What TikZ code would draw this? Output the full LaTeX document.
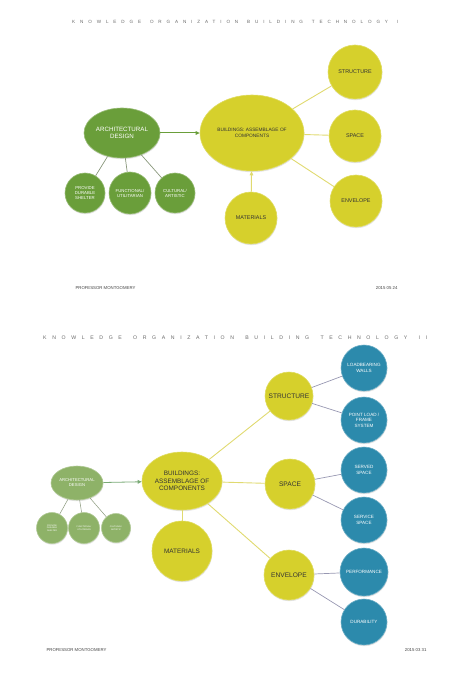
\documentclass[tikz,border=0pt]{standalone}
\usepackage{fontspec}
\setmainfont{Liberation Sans}
\usetikzlibrary{arrows.meta,shadows,shapes.geometric}

\definecolor{mapgreen}{RGB}{106,158,58}
\definecolor{palegreen}{RGB}{142,178,104}
\definecolor{mapyellow}{RGB}{214,208,44}
\definecolor{mapblue}{RGB}{44,138,172}
\definecolor{titlegray}{RGB}{105,105,105}
\definecolor{linkyellow}{RGB}{224,218,112}
\definecolor{linkgray}{RGB}{152,152,178}
\definecolor{linkgreen}{RGB}{138,152,124}

\begin{document}
\begin{tikzpicture}[x=1pt,y=-1pt,
  bubble/.style={circle,inner sep=0pt,align=center,line width=0.6pt,
    drop shadow={shadow xshift=0.4pt,shadow yshift=-1.2pt,opacity=0.22}},
  yel/.style={bubble,fill=mapyellow,draw=mapyellow!75!white,text=black!80},
  grn/.style={bubble,fill=mapgreen,draw=mapgreen!70!white,text=white},
  pale/.style={bubble,fill=palegreen,draw=palegreen!70!white,text=white},
  blu/.style={bubble,fill=mapblue,draw=mapblue!70!white,text=white},
  oval/.style={ellipse,inner sep=-4pt},
  heading/.style={text=titlegray,inner sep=0pt,anchor=west},
  footer/.style={text=black!75,font=\fontsize{4.3}{5}\selectfont,anchor=west},
  yellowlink/.style={linkyellow,line width=0.9pt},
  graylink/.style={linkgray,line width=0.7pt},
  greenlink/.style={linkgreen,line width=0.7pt},
  tip/.style={-{Triangle[length=4pt,width=3.6pt]}},
]
\useasboundingbox (0,0) rectangle (474,679);

%draw first map
\node[heading,font=\fontsize{4.6}{5}\selectfont\addfontfeature{LetterSpace=106}] (titleA) at (72,22)
  {\makebox[326pt][s]{KNOWLEDGE ORGANIZATION BUILDING TECHNOLOGY I}};

\node[grn,oval,minimum width=76pt,minimum height=50pt,font=\fontsize{6.2}{7.4}\selectfont] (archA) at (122,133) {ARCHITECTURAL\\DESIGN};
\node[grn,minimum size=40pt,font=\fontsize{4.3}{5}\selectfont] (shelterA) at (85,193) {PROVIDE\\DURABLE\\SHELTER};
\node[grn,minimum size=42pt,font=\fontsize{4.3}{5}\selectfont] (usefulA) at (130,193) {FUNCTIONAL/\\UTILITARIAN};
\node[grn,minimum size=40pt,font=\fontsize{4.3}{5}\selectfont] (artA) at (175,193) {CULTURAL/\\ARTISTIC};

\node[yel,oval,minimum width=104pt,minimum height=76pt,font=\fontsize{4.8}{5.8}\selectfont] (bldA) at (252,133) {BUILDINGS: ASSEMBLAGE OF\\COMPONENTS};
\node[yel,minimum size=54pt,font=\fontsize{5.4}{6}\selectfont] (strA) at (355,72) {STRUCTURE};
\node[yel,minimum size=52pt,font=\fontsize{5.4}{6}\selectfont] (spaceA) at (355,136) {SPACE};
\node[yel,minimum size=52pt,font=\fontsize{5.4}{6}\selectfont] (envA) at (356,201) {ENVELOPE};
\node[yel,minimum size=52pt,font=\fontsize{5.4}{6}\selectfont] (matA) at (251,218) {MATERIALS};

%connectors
\foreach \n in {shelterA,usefulA,artA}
\draw[greenlink] (archA) -- (\n);
\foreach \n in {strA,spaceA,envA}
\draw[yellowlink] (bldA) -- (\n);
\draw[tip,mapgreen,line width=1pt] (archA) -- (bldA);
\draw[tip,linkyellow,line width=1pt] (matA) -- (bldA);

\node[footer] (profA) at (72,288) {PROFESSOR MONTGOMERY};
\node[footer,anchor=east] (dateA) at (401,288) {2015 05 24};

%draw second map
\node[heading,font=\fontsize{5.2}{6}\selectfont\addfontfeature{LetterSpace=108}] (titleB) at (43,338)
  {\makebox[384pt][s]{KNOWLEDGE ORGANIZATION BUILDING TECHNOLOGY II}};

\node[pale,oval,minimum width=52pt,minimum height=34pt,font=\fontsize{4.2}{5}\selectfont] (archB) at (77,483) {ARCHITECTURAL\\DESIGN};
\node[pale,minimum size=31pt,font=\fontsize{2.2}{2.7}\selectfont] (shelterB) at (52,528) {PROVIDE\\DURABLE\\SHELTER};
\node[pale,minimum size=31pt,font=\fontsize{2.2}{2.7}\selectfont] (usefulB) at (84,528) {FUNCTIONAL/\\UTILITARIAN};
\node[pale,minimum size=29pt,font=\fontsize{2.2}{2.7}\selectfont] (artB) at (116,528) {CULTURAL/\\ARTISTIC};

\node[yel,oval,minimum width=80pt,minimum height=58pt,font=\fontsize{6.4}{7.4}\selectfont] (bldB) at (182,481) {BUILDINGS:\\ASSEMBLAGE OF\\COMPONENTS};
\node[yel,minimum size=60pt,font=\fontsize{6.4}{7.4}\selectfont] (matB) at (182,551) {MATERIALS};
\node[yel,minimum size=48pt,font=\fontsize{6.6}{7.4}\selectfont] (strB) at (289,396) {STRUCTURE};
\node[yel,minimum size=50pt,font=\fontsize{6.6}{7.4}\selectfont] (spaceB) at (290,484) {SPACE};
\node[yel,minimum size=50pt,font=\fontsize{6.6}{7.4}\selectfont] (envB) at (289,575) {ENVELOPE};

\node[blu,minimum size=46pt,font=\fontsize{4.6}{5.6}\selectfont] (wallB) at (364,368) {LOADBEARING\\WALLS};
\node[blu,minimum size=46pt,font=\fontsize{4.6}{5.6}\selectfont] (frameB) at (364,420) {POINT LOAD /\\FRAME\\SYSTEM};
\node[blu,minimum size=46pt,font=\fontsize{4.6}{5.6}\selectfont] (servedB) at (364,470) {SERVED\\SPACE};
\node[blu,minimum size=46pt,font=\fontsize{4.6}{5.6}\selectfont] (serviceB) at (364,520) {SERVICE\\SPACE};
\node[blu,minimum size=48pt,font=\fontsize{4.6}{5.6}\selectfont] (perfB) at (364,572) {PERFORMANCE};
\node[blu,minimum size=46pt,font=\fontsize{4.6}{5.6}\selectfont] (durB) at (364,622) {DURABILITY};

%connectors
\foreach \n in {shelterB,usefulB,artB}
\draw[greenlink,line width=0.5pt] (archB) -- (\n);
\foreach \n in {strB,spaceB,envB,matB}
\draw[yellowlink] (bldB) -- (\n);
\draw[graylink] (strB) -- (wallB);
\draw[graylink] (strB) -- (frameB);
\draw[graylink] (spaceB) -- (servedB);
\draw[graylink] (spaceB) -- (serviceB);
\draw[graylink] (envB) -- (perfB);
\draw[graylink] (envB) -- (durB);
\draw[tip,palegreen!80!mapblue,line width=0.8pt] (archB) -- (bldB);

\node[footer] (profB) at (43,650) {PROFESSOR MONTGOMERY};
\node[footer,anchor=east] (dateB) at (430,650) {2015 03 31};
\end{tikzpicture}
\end{document}
